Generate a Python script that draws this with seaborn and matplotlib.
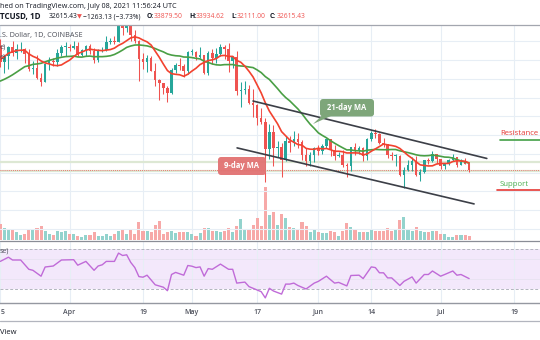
import numpy as np
import pandas as pd
import matplotlib
matplotlib.use("Agg")
import matplotlib.pyplot as plt
import matplotlib.dates as mdates
from matplotlib.patches import FancyBboxPatch, Polygon
from matplotlib.lines import Line2D
from matplotlib.transforms import IdentityTransform
import seaborn as sns

sns.set_style("white")
plt.rcParams['font.family'] = ['Open Sans', 'DejaVu Sans']

# ---------------- data ----------------
warmup_dates = pd.date_range('2021-02-22', '2021-03-14')
warmup_close = [54100, 48900, 49700, 47000, 46300, 46100, 45200, 49600, 48400, 50400,
                48400, 48800, 48900, 51000, 52400, 54900, 55900, 57800, 57300, 61200, 59000]

dates = pd.date_range('2021-03-15', '2021-07-08')
opens = [59000, 55600, 56900, 58900, 57650, 58300, 58400, 57400, 54100, 54300,
         52300, 51300, 55100, 55800, 55700, 57600, 58800, 58900, 58700, 59000,
         57100, 58200, 59100, 58000, 56000, 58100, 58200, 59800, 60000, 59900,
         63500, 62900, 63200, 61400, 60000, 56200, 55700, 56500, 53800, 51700,
         51200, 50100, 49000, 54000, 55000, 54800, 53600, 57700, 57800, 56600,
         57200, 53200, 57500, 56400, 57400, 58900, 58300, 55800, 56700, 49400,
         49700, 49900, 46800, 46400, 43600, 42900, 37000, 40700, 37300, 37500,
         34700, 38800, 38400, 39300, 38500, 35700, 34600, 35700, 37300, 36700,
         37600, 39200, 36900, 35500, 35800, 33600, 33400, 37400, 36700, 37300,
         35500, 39100, 40500, 40200, 38300, 38100, 35800, 35500, 35600, 31600,
         32500, 33700, 34600, 31600, 32200, 34700, 34500, 35900, 35000, 33500,
         33800, 34700, 35300, 33700, 34200, 33880]
highs = [60600, 56900, 58950, 60100, 59450, 59900, 58600, 58400, 55800, 57200,
         53200, 55100, 56600, 56500, 58300, 59300, 59800, 59500, 60000, 59800,
         58500, 59300, 59500, 58700, 58400, 58900, 61200, 60700, 61200, 63800,
         64900, 63800, 63600, 62500, 60400, 57500, 57100, 56800, 55400, 52100,
         51200, 50500, 54300, 55400, 56400, 55200, 58000, 58400, 57900, 58900,
         57200, 57900, 58400, 58600, 59500, 59300, 59600, 56900, 58000, 51400,
         51500, 50700, 49800, 46600, 45800, 43600, 42500, 42200, 38800, 38300,
         39900, 39800, 40900, 40400, 38900, 37300, 36400, 37500, 37900, 38200,
         39500, 39300, 37900, 36400, 36800, 34000, 37500, 38400, 37700, 37400,
         39400, 41000, 41300, 40500, 39500, 38200, 36500, 36100, 35800, 33300,
         34800, 35300, 35500, 32700, 34700, 35200, 36600, 36100, 35000, 33900,
         35000, 35900, 35300, 35000, 35100, 33935]
lows = [54600, 53300, 54100, 57000, 56300, 57800, 55500, 53700, 53000, 52000,
        50400, 51300, 53900, 54700, 54800, 57000, 56900, 57900, 58500, 56900,
        56800, 56800, 57400, 55500, 55700, 57700, 57900, 59400, 59400, 59900,
        61300, 62100, 60000, 59600, 51500, 54200, 53500, 53600, 50500, 47500,
        48800, 47000, 48900, 53300, 53900, 52400, 53100, 57100, 56100, 56500,
        53000, 52900, 55300, 55400, 56900, 56200, 53400, 54400, 48600, 46000,
        48800, 46600, 43900, 42100, 42300, 30000, 35000, 33500, 35300, 31100,
        34500, 36400, 37800, 37200, 34700, 33400, 33400, 34200, 35700, 35900,
        37200, 35600, 34800, 35300, 33300, 31000, 32400, 35800, 35900, 34600,
        34800, 38800, 39500, 38100, 37400, 35200, 34800, 33400, 31300, 28800,
        32300, 32400, 31300, 30200, 32000, 33900, 34200, 34000, 32700, 32700,
        33600, 34400, 33200, 33600, 33800, 32111]
closes = [55600, 56900, 58900, 57650, 58300, 58400, 57400, 54100, 54300, 52300,
          51300, 55100, 55800, 55700, 57600, 58800, 58900, 58700, 59000, 57100,
          58200, 59100, 58000, 56000, 58100, 58200, 59800, 60000, 59900, 63500,
          62900, 63200, 61400, 60000, 56200, 55700, 56500, 53800, 51700, 51200,
          50100, 49000, 54000, 55000, 54800, 53600, 57700, 57800, 56600, 57200,
          53200, 57500, 56400, 57400, 58900, 58300, 55800, 56700, 49400, 49700,
          49900, 46800, 46400, 43600, 42900, 37000, 40700, 37300, 37500, 34700,
          38800, 38400, 39300, 38500, 35700, 34600, 35700, 37300, 36700, 37600,
          39200, 36900, 35500, 35800, 33600, 33400, 37400, 36700, 37300, 35500,
          39100, 40500, 40200, 38300, 38100, 35800, 35500, 35600, 31600, 32500,
          33700, 34600, 31600, 32200, 34700, 34500, 35900, 35000, 33500, 33800,
          34700, 35300, 33700, 34200, 33880, 32615.43]
volume = [15.7, 12, 11.3, 10.3, 7.7, 5, 6, 9.7, 9.7, 11.7, 14.3, 9, 5.7, 5, 8.7,
          7.7, 8.7, 5.7, 5.7, 4.3, 3, 4.7, 4.7, 8.3, 4.3, 4.3, 5.7, 3.7, 5.7, 9,
          11, 5.7, 10, 5.7, 18.3, 9, 9, 8, 15, 19.3, 6.3, 7.7, 9, 7, 7.7, 7.7,
          7.7, 5.7, 3.7, 7, 11.7, 11.7, 9, 9, 8.3, 9, 12, 8, 14.3, 20.7, 11.3,
          11.3, 15, 21.7, 13.7, 53, 25,
          27.7, 14.7, 26.3, 21.7, 12.7, 12, 10, 18, 14, 8, 10, 8, 7.3, 7.3, 9.3,
          8, 4.3, 9.3, 17, 13, 10, 7.7, 7.7, 8, 11, 9, 9, 8.7, 12, 9.3, 10.3, 20,
          23, 11.3, 9, 13, 9.3, 7.7, 7.7, 9.3, 9, 6.3, 6.3, 3.3, 3.3, 5, 5, 5, 4]
volume = [v * 1000 for v in volume]

rsi_idx = [0, 2, 3, 5, 7, 8, 10, 11, 13, 15, 18, 19, 21, 23, 24, 25, 26, 28, 29, 30,
           31, 32, 33, 34, 35, 36, 38, 40, 41, 42, 43, 45, 46, 47, 48, 49, 50, 51, 52, 54,
           56, 57, 58, 60, 61, 62, 64, 65, 66, 67, 69, 70, 71, 72, 73, 75, 77, 78, 80, 81,
           82, 83, 85, 86, 88, 89, 91, 92, 93, 94, 95, 96, 98, 99, 101, 102, 104, 105, 106, 108,
           109, 111, 112, 113, 115]
rsi_vals = [57.6, 61.8, 59, 59, 49.7, 48.7, 42.8, 52, 53, 59, 59.3, 53.8, 57.6, 48.7, 53, 54.2, 57.6, 57.6, 65.9, 63.5,
            64.2, 56.6, 51.4, 42.4, 41.8, 43.8, 34.2, 31.8, 28.3, 44.5, 46.6, 43.8, 53.5, 52.8, 51.4, 52.1, 42.8, 50.4, 49.7, 54.9,
            49.7, 49.7, 35.9, 36.9, 32.4, 30.7, 27.3, 21.1, 30.7, 28, 24.9, 34.9, 34.9, 35.9, 33.5, 30, 35.9, 37.6, 42.8, 39.3,
            35.9, 36.6, 33.1, 43.5, 43.8, 40.4, 52.1, 51.4, 46.2, 46.2, 41.1, 41.1, 33.5, 37.6, 42.1, 35.9, 44.5, 44.5, 48, 42.8,
            44.5, 48, 43.8, 44.5, 40.4]

upper_channel_dates = ['2021-05-16 00:00', '2021-07-12 08:00']
upper_channel_prices = [47300, 35050]
lower_channel_dates = ['2021-05-12 02:00', '2021-07-09 05:00']
lower_channel_prices = [37300, 25350]
zone_levels = [34350, 32370]
last_price = 32615.43

price_grid = list(range(20000, 64001, 4000))
tick_dates = ['2021-03-15', '2021-04-01', '2021-04-19', '2021-05-01', '2021-05-17',
              '2021-06-01', '2021-06-14', '2021-07-01', '2021-07-19']
tick_labels = ['15', 'Apr', '19', 'May', '17', 'Jun', '14', 'Jul', '19']

# ---------------- figure ----------------
W, H = 540, 340
fig = plt.figure(figsize=(W / 100, H / 100), dpi=100)
fig.patch.set_facecolor('white')


def rect(top, bottom):
    return [0, 1 - bottom / H, 1, (bottom - top) / H]


UP, DOWN = '#26a69a', '#ef5350'
UP_V, DOWN_V = '#93d3cd', '#f7a9a8'
GRID = '#e7eef5'

x = mdates.date2num(dates)
x0 = mdates.date2num(pd.Timestamp('2021-03-15')) - 0.07
xlim = (x0, x0 + W / 4.077)
tx = mdates.date2num(pd.to_datetime(tick_dates))

o = np.array(opens, float); h = np.array(highs, float)
l = np.array(lows, float); c = np.array(closes, float)
up = c >= o

# volume axes (beneath)
ax_vol = fig.add_axes(rect(25, 240))
ax_vol.set_xlim(*xlim)
ax_vol.set_ylim(0, 215000)
for t in tx:
    ax_vol.axvline(t, color=GRID, lw=0.8, zorder=0)
ax_vol.bar(x, volume, width=0.75, color=np.where(up, UP_V, DOWN_V), linewidth=0, zorder=1)
ax_vol.axis('off')

# price axes
ax = fig.add_axes(rect(25, 240))
ax.patch.set_visible(False)
ax.set_xlim(*xlim)
ax.set_ylim(17650, 63520)
for p in price_grid:
    ax.axhline(p, color=GRID, lw=0.8, zorder=0)
for lv in zone_levels:
    ax.axhline(lv, color='#dde8d4', lw=1.6, zorder=1)
ax.axhline(last_price, color=DOWN, lw=0.6, ls=(0, (1, 1.5)), zorder=1)

ax.vlines(x, l, h, colors=np.where(up, UP, DOWN), linewidth=0.75, zorder=2)
ax.bar(x, np.maximum(np.abs(c - o), 180), bottom=np.minimum(o, c), width=0.62,
       color=np.where(up, UP, DOWN), linewidth=0, zorder=3)

all_close = pd.Series(warmup_close + closes, index=warmup_dates.append(dates))
ma9 = all_close.rolling(9).mean().loc[dates].values
ma21 = all_close.rolling(21).mean().loc[dates].values
sns.lineplot(x=x, y=ma21, ax=ax, color='#4a9f45', linewidth=1.2, zorder=4)
sns.lineplot(x=x, y=ma9, ax=ax, color='#f2422f', linewidth=1.2, zorder=5)

ax.plot(mdates.date2num(pd.to_datetime(upper_channel_dates)), upper_channel_prices,
        color='#3c3f47', lw=1.2, zorder=6, solid_capstyle='round')
ax.plot(mdates.date2num(pd.to_datetime(lower_channel_dates)), lower_channel_prices,
        color='#3c3f47', lw=1.2, zorder=6, solid_capstyle='round')
ax.axis('off')

# RSI axes
ax_r = fig.add_axes(rect(241, 303))
ax_r.set_xlim(*xlim)
ax_r.set_ylim(16, 78)
ax_r.axhspan(30, 70, color='#f3e8fb', zorder=0, lw=0)
for t in tx:
    ax_r.axvline(t, color=GRID, lw=0.8, zorder=0.5)
for g in (40, 60):
    ax_r.axhline(g, color='#e9e3f2', lw=0.7, zorder=0.5)
for b in (30, 70):
    ax_r.axhline(b, color='#b2b5be', lw=0.7, ls=(0, (3, 2)), zorder=1)
sns.lineplot(x=x[rsi_idx], y=rsi_vals, ax=ax_r, color='#c06bd8', linewidth=1.0, zorder=3)
ax_r.set_xticks(tx[1:])
ax_r.set_xticklabels(tick_labels[1:], fontsize=5, color='#50535e', fontweight='semibold')
ax_r.tick_params(axis='x', length=0, pad=4)
ax_r.set_yticks([])
ax_r.set_xlabel('')
ax_r.set_ylabel('')
for s in ax_r.spines.values():
    s.set_visible(False)
ax_r.spines['bottom'].set_visible(True)
ax_r.spines['bottom'].set_color('#9598a1')
ax_r.spines['bottom'].set_linewidth(1.0)
for a in (ax, ax_vol):
    a.set_xlabel(''); a.set_ylabel('')

# ---------------- frame lines ----------------
I = IdentityTransform()


def hline(y, x1, x2, color, lw):
    fig.add_artist(Line2D([x1, x2], [H - y, H - y], transform=I, color=color, lw=lw))


hline(25, 0, W, '#a3a6af', 0.9)
hline(240.6, 0, W, '#8a8d96', 0.9)
hline(321, 0, W, '#b2b5be', 0.9)


def ftext(px, py, s, **kw):
    fig.text(px / W, 1 - py / H, s, va='center', **kw)


# first (Mar 15) date label, only its visible digit as in the cropped original
ftext(0.5, 312, tick_labels[0][-1], fontsize=5, color='#50535e', fontweight='semibold')

# ---------------- header ----------------
ftext(0, 7, 'hed on TradingView.com, July 08, 2021 11:56:24 UTC', fontsize=5.2, color='#131722')
hdr = [(0, 'TCUSD, 1D', '#131722', 'bold', 5.8), (49, '32615.43', '#131722', 'normal', 4.9),
       (77, '\u25bc', DOWN, 'normal', 4.6), (83, '\u22121263.13 (\u22123.73%)', '#131722', 'normal', 4.9),
       (147, 'O:', '#131722', 'bold', 4.9), (154, '33879.50', DOWN, 'normal', 4.9),
       (189, 'H:', '#131722', 'bold', 4.9), (195.5, '33934.62', DOWN, 'normal', 4.9),
       (231, 'L:', '#131722', 'bold', 4.9), (237, '32111.00', DOWN, 'normal', 4.9),
       (270, 'C:', '#131722', 'bold', 4.9), (277, '32615.43', DOWN, 'normal', 4.9)]
for px, s, col, fw, fs in hdr:
    ftext(px, 17, s, fontsize=fs, color=col, fontweight=fw)
ftext(0, 35.5, '.S. Dollar, 1D, COINBASE', fontsize=5.2, color='#4a4d57')
ftext(0, 46.5, 'e)', fontsize=5.2, color='#4a4d57')
ftext(0, 57, 'e)', fontsize=5.2, color='#4a4d57')
ftext(0, 251, 'se)', fontsize=5, color='#4a4d57')
ftext(0, 332, 'View', fontsize=5.5, color='#131722')

# ---------------- annotations ----------------
b9 = FancyBboxPatch((218, H - 175), 48, 18, boxstyle='round,pad=0,rounding_size=3',
                    transform=I, facecolor='#e27272', edgecolor='none', alpha=0.95)
fig.add_artist(b9)
ftext(242, 166, '9-day MA', fontsize=5.5, color='white', fontweight='bold', ha='center')

tail = Polygon([[322, H - 115.5], [332, H - 115.5], [313, H - 124]], closed=True,
               transform=I, facecolor='#7ea67a', edgecolor='none')
fig.add_artist(tail)
b21 = FancyBboxPatch((320, H - 116.5), 54, 17.5, boxstyle='round,pad=0,rounding_size=3',
                     transform=I, facecolor='#7ea67a', edgecolor='none')
fig.add_artist(b21)
ftext(347, 107.5, '21-day MA', fontsize=5.5, color='white', fontweight='bold', ha='center')

ftext(500, 134, 'Resistance', fontsize=5.6, color='#e53935')
hline(139.5, 500, W, '#43a047', 1.2)
ftext(500, 184, 'Support', fontsize=5.6, color='#4caf50')
hline(190, 497, W, '#e53935', 1.2)

fig.savefig('out.png', dpi=100, facecolor='white')
